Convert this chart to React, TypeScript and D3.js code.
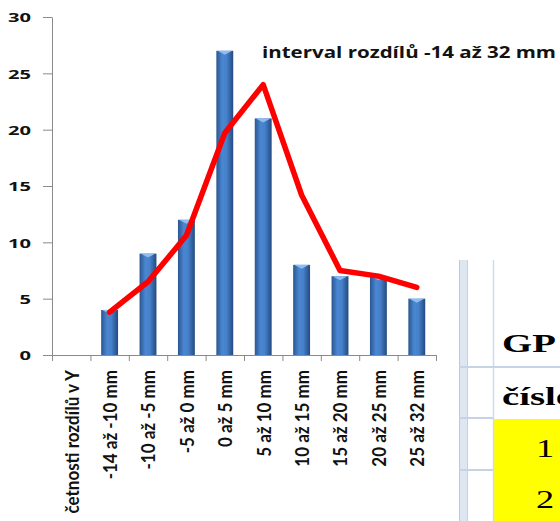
import { useEffect, useRef } from "react";
import * as d3 from "d3";

// chart data
const categories = [
  "četnosti rozdílů v Y",
  "-14 až -10 mm",
  "-10 až -5 mm",
  "-5 až 0 mm",
  "0 až 5 mm",
  "5 až 10 mm",
  "10 až 15 mm",
  "15 až 20 mm",
  "20 až 25 mm",
  "25 až 32 mm",
];
const counts = [0, 4, 9, 12, 27, 21, 8, 7, 7, 5];
const trend: (number | null)[] = [null, 3.8, 6.5, 10.6, 19.7, 24, 14.2, 7.5, 7.0, 6.0];
const yTicks = [0, 5, 10, 15, 20, 25, 30];
const title = "interval rozdílů -14 až 32 mm";

// spreadsheet fragment on the right
const sheetHeaders = ["GP", "číslo"];
const sheetRows = ["1", "2"];

const W = 560;
const H = 521;
const STRETCH = 1.55; // the screenshot is squashed vertically, text looks wide

export default function App() {
  const svgRef = useRef<SVGSVGElement>(null);

  useEffect(() => {
    const svg = d3.select(svgRef.current);
    svg.selectAll("*").remove();

    svg.append("rect").attr("width", W).attr("height", H).attr("fill", "#fff");

    // gradient for the cylinder-ish bars
    const defs = svg.append("defs");
    const grad = defs
      .append("linearGradient")
      .attr("id", "barGrad")
      .attr("x1", "0")
      .attr("x2", "1")
      .attr("y1", "0")
      .attr("y2", "0");
    grad.append("stop").attr("offset", "0%").attr("stop-color", "#2a5691");
    grad.append("stop").attr("offset", "35%").attr("stop-color", "#4a87d2");
    grad.append("stop").attr("offset", "60%").attr("stop-color", "#4681cb");
    grad.append("stop").attr("offset", "100%").attr("stop-color", "#234a80");

    // scales
    const x = d3.scaleBand<string>().domain(categories).range([52, 436]);
    const y = d3.scaleLinear().domain([0, 30]).range([355, 17]);
    const barW = x.bandwidth() * 0.44;
    const cx = (c: string) => (x(c) ?? 0) + x.bandwidth() / 2;

    // ---- spreadsheet piece (behind everything) ----
    const sheet = svg.append("g");
    sheet.append("rect").attr("x", 459).attr("y", 260).attr("width", 8).attr("height", H - 260).attr("fill", "#dde6f1");
    sheet.append("line").attr("x1", 459.5).attr("x2", 459.5).attr("y1", 260).attr("y2", H).attr("stroke", "#b9c9de");
    sheet.append("line").attr("x1", 467.5).attr("x2", 467.5).attr("y1", 260).attr("y2", H).attr("stroke", "#c3d1e3");
    sheet.append("rect").attr("x", 493).attr("y", 419).attr("width", W - 493).attr("height", H - 419).attr("fill", "#ffff00");
    sheet.append("line").attr("x1", 493.5).attr("x2", 493.5).attr("y1", 260).attr("y2", H).attr("stroke", "#d0dbe9").attr("stroke-width", 1.5);
    [367, 418, 470].forEach((ly, i) => {
      sheet
        .append("line")
        .attr("x1", 459)
        .attr("x2", i === 0 ? W : 493)
        .attr("y1", ly)
        .attr("y2", ly)
        .attr("stroke", "#c6d3e4")
        .attr("stroke-width", 2);
    });
    sheet
      .selectAll(".hdr")
      .data(sheetHeaders)
      .join("text")
      .attr("transform", (_, i) => `translate(502, ${i === 0 ? 352 : 405}) scale(${STRETCH},1)`)
      .attr("font-family", "Liberation Serif")
      .attr("font-weight", "bold")
      .attr("font-size", 25)
      .attr("fill", "#000")
      .text((d) => d);
    sheet
      .selectAll(".row")
      .data(sheetRows)
      .join("text")
      .attr("transform", (_, i) => `translate(554, ${457 + i * 51}) scale(1.45,1)`)
      .attr("text-anchor", "end")
      .attr("font-family", "Liberation Serif")
      .attr("font-size", 25)
      .attr("fill", "#000")
      .text((d) => d);

    // ---- y axis ----
    const yAxis = svg
      .append("g")
      .attr("transform", "translate(52,0)")
      .call(d3.axisLeft(y).tickValues(yTicks).tickSize(9).tickSizeOuter(0));
    yAxis.select(".domain").attr("stroke", "#8a8a8a");
    yAxis.selectAll(".tick line").attr("stroke", "#8a8a8a");
    yAxis
      .selectAll(".tick text")
      .attr("x", null)
      .attr("dy", "0.36em")
      .attr("transform", `translate(-21,0) scale(${STRETCH},1)`)
      .attr("font-family", "Open Sans")
      .attr("font-weight", "bold")
      .attr("font-size", 13)
      .attr("fill", "#121212");

    // ---- x axis (ticks at category borders) ----
    const xAxis = svg.append("g");
    xAxis
      .append("line")
      .attr("x1", x.range()[0])
      .attr("x2", x.range()[1])
      .attr("y1", y(0) + 0.5)
      .attr("y2", y(0) + 0.5)
      .attr("stroke", "#8a8a8a");
    const borders = categories.map((c) => x(c) ?? 0).concat([x.range()[1]]);
    xAxis
      .selectAll("line.tk")
      .data(borders)
      .join("line")
      .attr("class", "tk")
      .attr("x1", (d) => d + 0.5)
      .attr("x2", (d) => d + 0.5)
      .attr("y1", y(0))
      .attr("y2", y(0) + 6)
      .attr("stroke", "#8a8a8a");
    xAxis
      .selectAll("text")
      .data(categories)
      .join("text")
      .attr("transform", (d) => `translate(${cx(d)}, 370) scale(1.1,1) rotate(-90)`)
      .attr("text-anchor", "end")
      .attr("dominant-baseline", "central")
      .attr("font-family", "Lato")
      .attr("font-weight", "bold")
      .attr("font-size", 17)
      .attr("fill", "#121212")
      .text((d) => d);

    // ---- bars ----
    const barData = categories.map((c, i) => ({ c, v: counts[i] })).filter((d) => d.v > 0);
    const bars = svg.append("g");
    bars
      .selectAll("rect")
      .data(barData)
      .join("rect")
      .attr("x", (d) => cx(d.c) - barW / 2)
      .attr("y", (d) => y(d.v))
      .attr("width", barW)
      .attr("height", (d) => y(0) - y(d.v))
      .attr("fill", "url(#barGrad)");
    bars
      .selectAll("path")
      .data(barData)
      .join("path")
      .attr("d", (d) => {
        const l = cx(d.c) - barW / 2 + 1;
        const r = cx(d.c) + barW / 2 - 1;
        const t = y(d.v);
        return `M${l},${t}L${r},${t}L${cx(d.c)},${t + 4}Z`;
      })
      .attr("fill", "#8dbcef");

    // ---- red line ----
    const linePts = categories
      .map((c, i) => ({ c, v: trend[i] }))
      .filter((d) => d.v !== null) as { c: string; v: number }[];
    const lineGen = d3
      .line<{ c: string; v: number }>()
      .x((d) => cx(d.c))
      .y((d) => y(d.v));
    svg
      .append("path")
      .datum(linePts)
      .attr("d", lineGen)
      .attr("fill", "none")
      .attr("stroke", "#ff0000")
      .attr("stroke-width", 5.5)
      .attr("stroke-linejoin", "round")
      .attr("stroke-linecap", "round");

    // ---- title ----
    svg
      .append("text")
      .attr("x", 262)
      .attr("y", 58)
      .attr("textLength", 294)
      .attr("lengthAdjust", "spacingAndGlyphs")
      .attr("font-family", "Open Sans")
      .attr("font-weight", "bold")
      .attr("font-size", 15.5)
      .attr("fill", "#121212")
      .text(title);
  }, []);

  return (
    <svg
      ref={svgRef}
      width={W}
      height={H}
      style={{ position: "absolute", left: 0, top: 0, display: "block" }}
    />
  );
}
